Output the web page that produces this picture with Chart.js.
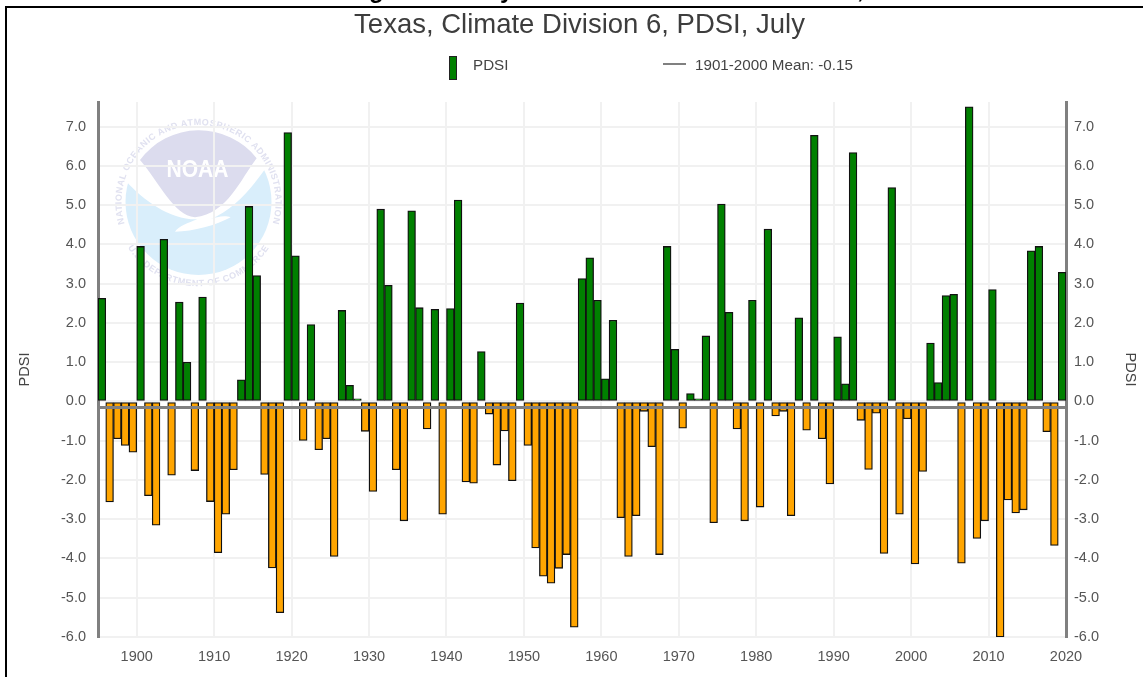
<!DOCTYPE html>
<html>
<head>
<meta charset="utf-8">
<title>Texas, Climate Division 6, PDSI, July</title>
<script src="https://cdn.jsdelivr.net/npm/chart.js@4"></script>
<style>
  html, body { margin: 0; padding: 0; background: #fff; overflow: hidden; }
  #page { position: relative; width: 1143px; height: 677px; overflow: hidden; font-family: "Liberation Sans", Arial, sans-serif; filter: blur(0.45px); }
  #frame { position: absolute; left: 5px; top: 6px; width: 1138px; height: 671px; border-left: 2px solid #000; border-top: 2px solid #000; box-sizing: border-box; }
  #logo { position: absolute; left: 0; top: 0; }
  #pdsiChart { position: absolute; left: 0; top: 0; }
  .clipped { position: absolute; top: -22px; font: bold 24px/24px "Liberation Sans", Arial, sans-serif; color: #000; }
  .legend-text { position: absolute; top: 56px; font-size: 15.2px; line-height: 18px; color: #444; white-space: nowrap; }
  #legendBar { position: absolute; left: 449px; top: 56px; width: 6px; height: 22px; background: #008000; border: 1px solid #222; }
  #legendLine { position: absolute; left: 663px; top: 63px; width: 23px; height: 2px; background: #808080; }
</style>
</head>
<body>
<div id="page">
  <svg id="logo" width="1143" height="677">
    <defs>
      <path id="ringTop" d="M126,228 A77,77 0 1 1 271,228"/>
      <path id="ringBottom" d="M123.5,240 A84,84 0 0 0 273.5,240"/>
    </defs>
    <circle cx="198.5" cy="202" r="73" fill="#d9eefb"/>
    <g transform="translate(110,120) scale(0.3333)">
      <path d="M20,185 L50,185 C100,240 180,300 262,298 C235,308 205,320 195,335 C250,335 320,315 362,292 C345,285 320,290 300,298 C370,270 420,210 465,148 L520,-10 L20,-10 Z" fill="#fff"/>
      <path d="M90,120 A220,220 0 0 1 440,115 C395,170 355,280 255,292 C190,285 150,190 90,120 Z" fill="#dcdcee"/>
    </g>
    <text x="197.5" y="177" text-anchor="middle" font-family="Liberation Sans" font-weight="bold" font-size="24" textLength="62" lengthAdjust="spacingAndGlyphs" fill="#fff">NOAA</text>
    <text font-family="Liberation Sans" font-weight="bold" font-size="9" fill="#e0e1f0" letter-spacing="0.55">
      <textPath href="#ringTop" startOffset="50%" text-anchor="middle">NATIONAL OCEANIC AND ATMOSPHERIC ADMINISTRATION</textPath>
    </text>
    <text font-family="Liberation Sans" font-weight="bold" font-size="9" fill="#e0e1f0" letter-spacing="0.55">
      <textPath href="#ringBottom" startOffset="50%" text-anchor="middle">U.S. DEPARTMENT OF COMMERCE</textPath>
    </text>
  </svg>
  <div id="frame"></div>
  <span class="clipped" style="left:369px">g</span>
  <span class="clipped" style="left:500px">y</span>
  <span class="clipped" style="left:857px">,</span>
  <canvas id="pdsiChart" width="1143" height="677"></canvas>
  <div id="legendBar"></div>
  <div class="legend-text" id="legendPdsi" style="left:473px"></div>
  <div id="legendLine"></div>
  <div class="legend-text" id="legendMean" style="left:695px"></div>
</div>
<script>
const chartTitle = "Texas, Climate Division 6, PDSI, July";
const barLabel = "PDSI";
const meanLabel = "1901-2000 Mean: -0.15";
const meanValue = -0.15;

const firstYear = 1895;
// July PDSI, 1895 to 2019
const pdsiValues = [
  2.63, -2.56, -0.95, -1.12, -1.29, 3.95, -2.40, -3.15, 4.13, -1.88,
  2.53, 1.00, -1.76, 2.66, -2.55, -3.85, -2.87, -1.74, 0.55, 4.97,
  3.21, -1.86, -4.24, -5.38, 6.85, 3.71, -0.99, 1.96, -1.23, -0.95,
  -3.95, 2.32, 0.41, 0.07, -0.76, -2.29, 4.90, 2.96, -1.74, -3.04,
  4.86, 2.39, -0.70, 2.35, -2.87, 2.37, 5.13, -2.05, -2.08, 1.27,
  -0.32, -1.62, -0.75, -2.02, 2.51, -1.12, -3.73, -4.45, -4.63, -4.25,
  -3.90, -5.75, 3.13, 3.66, 2.58, 0.58, 2.07, -2.96, -3.95, -2.91,
  -0.25, -1.15, -3.90, 3.95, 1.33, -0.68, 0.20, 0.07, 1.67, -3.09,
  5.03, 2.27, -0.70, -3.04, 2.58, -2.69, 4.39, -0.37, -0.25, -2.91,
  2.13, -0.73, 6.78, -0.95, -2.10, 1.65, 0.45, 6.34, -0.48, -1.73,
  -0.30, -3.87, 5.45, -2.87, -0.44, -4.14, -1.78, 1.49, 0.48, 2.70,
  2.73, -4.12, 7.51, -3.49, -3.04, 2.85, -6.00, -2.51, -2.84, -2.76,
  3.84, 3.95, -0.77, -3.67, 3.29
];
const xTicks = [1900, 1910, 1920, 1930, 1940, 1950, 1960, 1970, 1980, 1990, 2000, 2010, 2020];
const yTicks = [7, 6, 5, 4, 3, 2, 1, 0, -1, -2, -3, -4, -5, -6];
const xMin = 1895, xMax = 2020;
const yMin = -6, yMax = 7.63;

document.getElementById("legendPdsi").textContent = barLabel;
document.getElementById("legendMean").textContent = meanLabel;

// each year's bar fills the span from that year to the next
const barPoints = pdsiValues.map((v, i) => ({ x: firstYear + i + 0.5, y: v }));

const setTicks = (list) => (scale) => { scale.ticks = list.map((v) => ({ value: v })); };
const oneDecimal = (v) => v.toFixed(1);
const fixWidth = (w) => (scale) => { scale.width = w; };

// the title sits over the plot, not over the canvas
const nudgeTitle = {
  id: "nudgeTitle",
  afterLayout(chart) {
    chart.titleBlock.left += 8;
    chart.titleBlock.right += 8;
  }
};

new Chart(document.getElementById("pdsiChart"), {
  type: "bar",
  plugins: [nudgeTitle],
  data: {
    datasets: [
      {
        type: "line",
        label: meanLabel,
        data: [{ x: xMin, y: meanValue }, { x: xMax, y: meanValue }],
        borderColor: "#808080",
        borderWidth: 3,
        pointRadius: 0,
        order: 0
      },
      {
        label: barLabel,
        data: barPoints,
        backgroundColor: (ctx) => (ctx.raw && ctx.raw.y < 0 ? "#ffa500" : "#008000"),
        borderColor: "#111",
        borderWidth: 1.3,
        borderSkipped: false,
        barPercentage: 1,
        categoryPercentage: 1,
        order: 1
      }
    ]
  },
  options: {
    responsive: false,
    animation: false,
    events: [],
    plugins: {
      legend: { display: false },
      tooltip: { enabled: false },
      title: {
        display: true,
        text: chartTitle,
        color: "#3d3d3d",
        font: { family: "Liberation Sans", size: 27.5, weight: "normal" },
        padding: { top: 8.5, bottom: 60.5 }
      }
    },
    scales: {
      x: {
        type: "linear",
        offset: false,
        min: xMin,
        max: xMax,
        afterBuildTicks: setTicks(xTicks),
        afterFit: (scale) => { scale.height = 40; },
        border: { display: false },
        grid: { offset: false, color: "#f1f1f1", lineWidth: 2, drawTicks: false },
        ticks: {
          autoSkip: false,
          maxRotation: 0,
          padding: 11,
          color: "#555",
          font: { family: "Liberation Sans", size: 14.5 },
          callback: (v) => String(v)
        }
      },
      y: {
        position: "left",
        min: yMin,
        max: yMax,
        afterBuildTicks: setTicks(yTicks),
        afterFit: fixWidth(98),
        border: { display: true, color: "#808080", width: 3 },
        grid: { color: "#f1f1f1", lineWidth: 2, drawTicks: false },
        title: { display: true, text: barLabel, color: "#444", font: { family: "Liberation Sans", size: 14.5 }, padding: { top: 16, bottom: 0 } },
        ticks: { padding: 12, color: "#555", font: { family: "Liberation Sans", size: 14.5 }, callback: oneDecimal }
      },
      y1: {
        position: "right",
        min: yMin,
        max: yMax,
        afterBuildTicks: setTicks(yTicks),
        afterFit: fixWidth(77),
        border: { display: true, color: "#808080", width: 3 },
        grid: { display: false, drawTicks: false },
        title: { display: true, text: barLabel, color: "#444", font: { family: "Liberation Sans", size: 14.5 }, padding: { top: 4, bottom: 0 } },
        ticks: { padding: 8, color: "#555", font: { family: "Liberation Sans", size: 14.5 }, callback: oneDecimal }
      }
    }
  }
});
</script>
</body>
</html>
